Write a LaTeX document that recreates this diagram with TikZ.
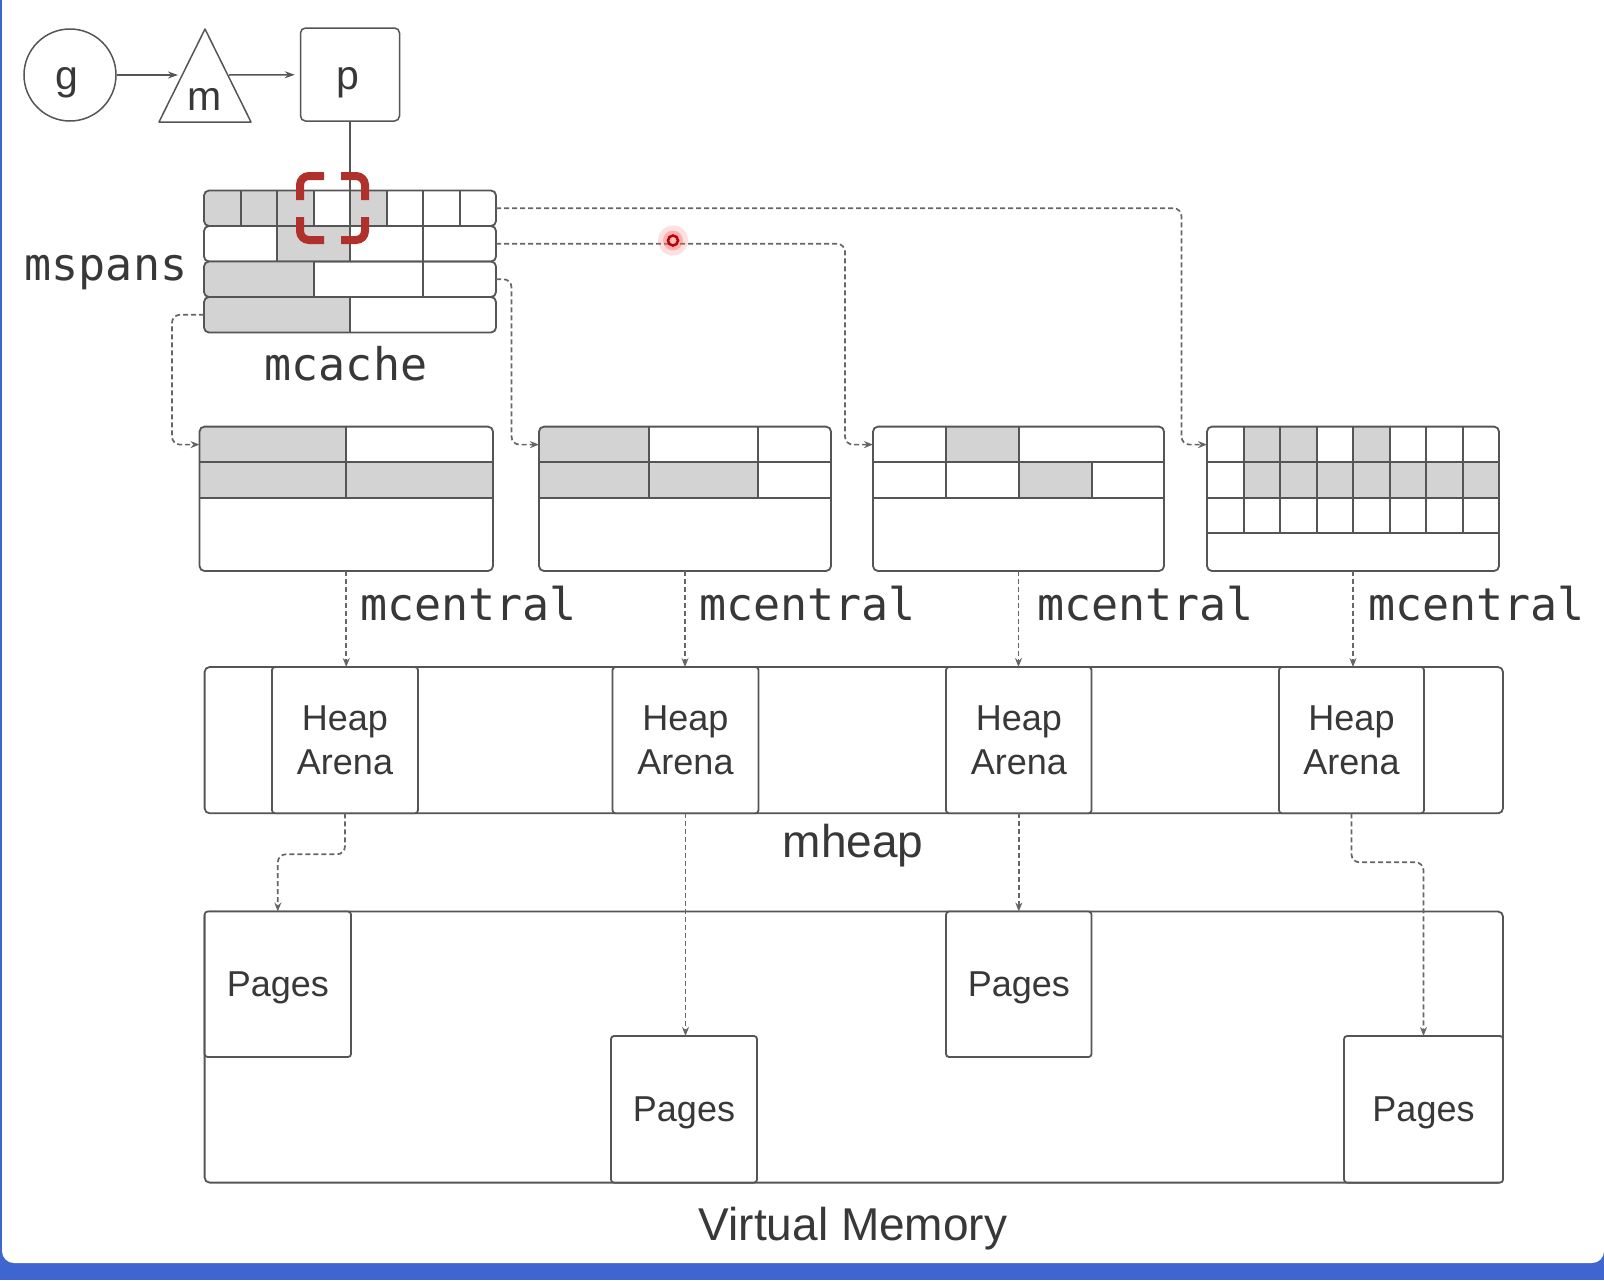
\documentclass[tikz,border=0pt]{standalone}
\usepackage{fontspec}
\setmainfont{Liberation Sans}
\newfontfamily\codefont{DejaVu Sans Mono}
\usetikzlibrary{arrows.meta,calc}
\definecolor{ln}{HTML}{555555}
\definecolor{cellgrey}{HTML}{D3D3D3}
\definecolor{dashc}{HTML}{666666}
\definecolor{redb}{HTML}{B0302B}
\definecolor{bluebar}{HTML}{3F66D0}
\definecolor{txt}{HTML}{383838}
\begin{document}
\begin{tikzpicture}[x=1pt,y=-1pt,
  rowbox/.style={draw=ln,line width=1.8pt,rounded corners=5pt,minimum width=292pt,minimum height=35.5pt,inner sep=0pt,outer sep=0pt},
  cbox/.style={draw=ln,line width=1.8pt,rounded corners=5pt,minimum height=144.4pt,inner sep=0pt,outer sep=0pt},
  arena/.style={draw=ln,line width=1.8pt,rounded corners=3pt,fill=white,inner sep=0pt,outer sep=0pt,align=center,font=\fontsize{36}{44}\selectfont,text=txt},
  pagebox/.style={arena,text depth=0pt},
  bigbox/.style={draw=ln,line width=1.8pt,rounded corners=5pt,inner sep=0pt,outer sep=0pt},
  gridln/.style={draw=ln,line width=2pt},
  dconn/.style={draw=dashc,line width=1.7pt,dash pattern=on 5pt off 3pt,rounded corners=8pt,-{Stealth[length=9pt,width=7pt]}},
  sconn/.style={draw=ln,line width=1.5pt,-{Stealth[length=10pt,width=7pt]}},
  codelabel/.style={font=\codefont\fontsize{45}{54}\selectfont,text=txt,inner sep=0pt},
  sanslabel/.style={font=\fontsize{46}{55}\selectfont,text=txt,inner sep=0pt},
  letter/.style={font=\fontsize{41}{48}\selectfont,text=txt,inner sep=0pt}]
% background
\useasboundingbox (0,0) rectangle (1604,1280);
\clip (0,0) rectangle (1604,1280);
\fill[bluebar] (0,0) rectangle (1604,1280);
\fill[white,rounded corners=12pt] (2,-30) rectangle (1604,1263);

% g m p
\node[circle,draw=ln,line width=1.5pt,minimum size=92pt,inner sep=0pt] (g) at (70,75) {};
\node[letter,anchor=base] (gtext) at (67,89) {g};
\draw[ln,line width=1.5pt,line join=round] (205,29) -- (251,122) -- (159,122) -- cycle;
\node[letter,anchor=base] (m) at (205,110) {m};
\node[draw=ln,line width=1.5pt,rounded corners=5pt,minimum width=99pt,minimum height=93pt,inner sep=0pt] (p) at (350,74.5) {};
\node[letter,anchor=base] (ptext) at (348,89) {p};
\coordinate (mL) at (178,75);
\coordinate (mR) at (229,75);
\draw[sconn] (g) -- (mL);
\draw[sconn,shorten >=5pt] (mR) -- (p);

% mcache rows
\begin{scope}
\clip[rounded corners=5pt] (204,190.5) rectangle (496,226);
\fill[cellgrey] (204,190.5) rectangle (313.5,226);
\fill[cellgrey] (350,190.5) rectangle (386.5,226);
\foreach \x in {240.5,277,313.5,350,386.5,423,459.5} \draw[gridln] (\x,190.5) -- (\x,226);
\end{scope}
\node[rowbox] (row1) at (350,208.25) {};
\begin{scope}
\clip[rounded corners=5pt] (204,226) rectangle (496,261.5);
\fill[cellgrey] (277,226) rectangle (350,261.5);
\foreach \x in {277,350,423} \draw[gridln] (\x,226) -- (\x,261.5);
\end{scope}
\node[rowbox] (row2) at (350,243.75) {};
\begin{scope}
\clip[rounded corners=5pt] (204,261.5) rectangle (496,297);
\fill[cellgrey] (204,261.5) rectangle (313.5,297);
\foreach \x in {313.5,423} \draw[gridln] (\x,261.5) -- (\x,297);
\end{scope}
\node[rowbox] (row3) at (350,279.25) {};
\begin{scope}
\clip[rounded corners=5pt] (204,297) rectangle (496,332.5);
\fill[cellgrey] (204,297) rectangle (350,332.5);
\draw[gridln] (350,297) -- (350,332.5);
\end{scope}
\node[rowbox] (row4) at (350,314.75) {};

\draw[ln,line width=1.5pt] (p.south) -- (p.south |- row1.north);

% selection bracket
\begin{scope}[draw=redb,line width=8pt,rounded corners=9pt]
\draw (300,200) -- (300,176) -- (324,176);
\draw (341,176) -- (365,176) -- (365,200);
\draw (300,217) -- (300,240) -- (324,240);
\draw (341,240) -- (365,240) -- (365,217);
\end{scope}

\node[codelabel,anchor=base] (mspans) at (106,280) {mspans};
\node[codelabel,anchor=base] (mcache) at (346,380) {mcache};

% mcentral boxes
\begin{scope}
\clip[rounded corners=5pt] (199.5,426.6) rectangle (493,571);
\fill[cellgrey] (199.5,426.6) rectangle (346,462.4);
\fill[cellgrey] (199.5,462.4) rectangle (493,498.2);
\draw[gridln] (199.5,462.4) -- (493,462.4) (199.5,498.2) -- (493,498.2) (346,426.6) -- (346,498.2);
\end{scope}
\node[cbox,minimum width=293.5pt] (c1) at (346.25,498.8) {};

\begin{scope}
\clip[rounded corners=5pt] (539,426.6) rectangle (831,571);
\fill[cellgrey] (539,426.6) rectangle (648.5,462.4);
\fill[cellgrey] (539,462.4) rectangle (758,498.2);
\draw[gridln] (539,462.4) -- (831,462.4) (539,498.2) -- (831,498.2) (648.5,426.6) -- (648.5,498.2) (758,426.6) -- (758,498.2);
\end{scope}
\node[cbox,minimum width=292pt] (c2) at (685,498.8) {};

\begin{scope}
\clip[rounded corners=5pt] (873,426.6) rectangle (1164,571);
\fill[cellgrey] (946,426.6) rectangle (1019,462.4);
\fill[cellgrey] (1019,462.4) rectangle (1092,498.2);
\draw[gridln] (873,462.4) -- (1164,462.4) (873,498.2) -- (1164,498.2) (946,426.6) -- (946,498.2) (1019,426.6) -- (1019,498.2) (1092,462.4) -- (1092,498.2);
\end{scope}
\node[cbox,minimum width=291pt] (c3) at (1018.5,498.8) {};

\begin{scope}
\clip[rounded corners=5pt] (1207,426.6) rectangle (1499,571);
\foreach \i in {1,2,4} \fill[cellgrey] ({1207+36.5*\i},426.6) rectangle ({1243.5+36.5*\i},462.4);
\fill[cellgrey] (1243.5,462.4) rectangle (1499,498.2);
\draw[gridln] (1207,462.4) -- (1499,462.4) (1207,498.2) -- (1499,498.2) (1207,533) -- (1499,533);
\foreach \i in {1,...,7} \draw[gridln] ({1207+36.5*\i},426.6) -- ({1207+36.5*\i},533);
\end{scope}
\node[cbox,minimum width=292pt] (c4) at (1353,498.8) {};

% mcache -> mcentral connectors
\draw[dconn] (row1.east) -- (1181.5,208.25) -- (1181.5,444.6) -- ([yshift=-18pt]c4.north west);
\draw[dconn] (row2.east) -- (845,243.75) -- (845,444.6) -- ([yshift=-18pt]c3.north west);
\draw[dconn] (row3.east) -- (511.5,279.25) -- (511.5,444.6) -- ([yshift=-18pt]c2.north west);
\draw[dconn] (row4.west) -- (172,314.75) -- (172,444.6) -- ([yshift=-18pt]c1.north west);

% pointer dot
\fill[red!55,opacity=0.22] (673,240.5) circle (15pt);
\fill[red!65,opacity=0.35] (673,240.5) circle (10pt);
\draw[red!75!black,line width=2.5pt,fill=red!25] (673,240.5) circle (5pt);

% mcentral labels
\node[codelabel,anchor=base west] (lab1) at (360,620) {mcentral};
\node[codelabel,anchor=base west] (lab2) at (699,620) {mcentral};
\node[codelabel,anchor=base west] (lab3) at (1037,620) {mcentral};
\node[codelabel,anchor=base west] (lab4) at (1368,620) {mcentral};

% mheap
\node[bigbox,minimum width=1298.4pt,minimum height=146.3pt] (mheap) at (853.8,740.15) {};
\node[arena,minimum width=146pt,minimum height=146.3pt] (ha1) at (345,740.15) {Heap\\Arena};
\node[arena,minimum width=146pt,minimum height=146.3pt] (ha2) at (685.5,740.15) {Heap\\Arena};
\node[arena,minimum width=145.5pt,minimum height=146.3pt] (ha3) at (1018.8,740.15) {Heap\\Arena};
\node[arena,minimum width=145pt,minimum height=146.3pt] (ha4) at (1351.5,740.15) {Heap\\Arena};
\node[sanslabel,anchor=base] (mheaplab) at (853,857) {mheap};

\draw[dconn] (c1.south) -- (c1.south |- ha1.north);
\draw[dconn] (c2.south) -- (c2.south |- ha2.north);
\draw[dconn] (c3.south) -- (c3.south |- ha3.north);
\draw[dconn] (c4.south) -- (c4.south |- ha4.north);

% virtual memory
\node[bigbox,minimum width=1298.4pt,minimum height=271.1pt] (vm) at (853.8,1047.05) {};
\node[pagebox,minimum width=146.4pt,minimum height=145.5pt] (p1) at (277.8,984.25) {Pages};
\node[pagebox,minimum width=146pt,minimum height=146.6pt] (p2) at (684,1109.3) {Pages};
\node[pagebox,minimum width=145.5pt,minimum height=145.5pt] (p3) at (1018.8,984.25) {Pages};
\node[pagebox,minimum width=159pt,minimum height=146.6pt] (p4) at (1423.5,1109.3) {Pages};
\node[sanslabel,anchor=base] (vmlab) at (853,1240) {Virtual Memory};

\draw[dconn] (ha1.south) -- ++(0,41) -| (p1.north);
\draw[dconn] (ha2.south) -- (ha2.south |- p2.north);
\draw[dconn] (ha3.south) -- (ha3.south |- p3.north);
\draw[dconn] (ha4.south) -- ++(0,49) -| (p4.north);
\end{tikzpicture}
\end{document}
